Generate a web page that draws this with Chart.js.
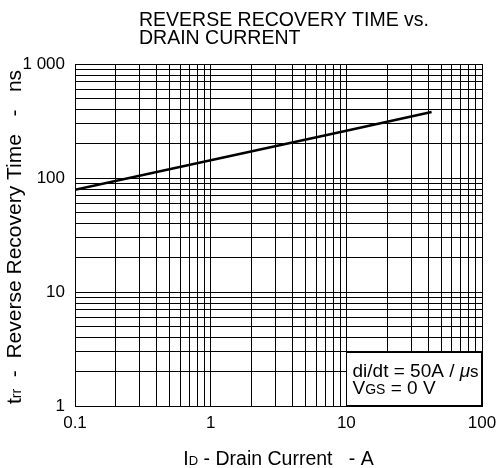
<!DOCTYPE html>
<html>
<head>
<meta charset="utf-8">
<script src="https://cdn.jsdelivr.net/npm/chart.js@4/dist/chart.umd.min.js"></script>
<style>
  body { margin: 0; background: #fff; }
  #wrap { width: 499px; height: 468px; }
</style>
</head>
<body>
<div id="wrap"><canvas id="chart" width="499" height="468"></canvas></div>
<script>
// values
const drainCurrentA = [0.1, 1, 10, 42.5];
const recoveryTimeNs = [79, 143, 260, 379];

const xTickValues = [0.1, 1, 10, 100];
const xTickLabels = ["0.1", "1", "10", "100"];
const yTickValues = [1, 10, 100, 1000];
const yTickLabels = ["1", "10", "100", "1 000"];

const titleLines = ["REVERSE RECOVERY TIME vs.", "DRAIN CURRENT"];
const noteLine1 = [["di/dt = 50A / ", 19, ""], ["\u03bc", 19, "italic "], ["s", 17, ""]];
const noteLine2 = [["V", 19, ""], ["GS", 14, ""], [" = 0 V", 19, ""]];
const xTitle = [["I", 19.5, ""], ["D", 13, ""], [" - Drain Current   - A", 19.5, ""]];
const yTitle = [["t", 21, ""], ["rr", 14, ""], ["  -  Reverse Recovery Time   -   ns", 21, ""]];

const FONT = "'Liberation Sans', Arial, sans-serif";

// 1..9 x 10^n grid lines for each decade
function logGrid(min, max) {
  const out = [];
  for (let e = Math.round(Math.log10(min)); e < Math.round(Math.log10(max)); e++) {
    for (let k = 1; k < 10; k++) out.push(Number((k * Math.pow(10, e)).toPrecision(3)));
  }
  out.push(max);
  return out;
}

function labelFor(values, labels, v) {
  const i = values.findIndex((t) => Math.abs(t - v) / t < 1e-6);
  return i >= 0 ? labels[i] : "";
}

function drawRich(ctx, parts, x, y, align) {
  let total = 0;
  parts.forEach((p) => {
    ctx.font = p[2] + p[1] + "px " + FONT;
    total += ctx.measureText(p[0]).width;
  });
  let cx = align === "center" ? x - total / 2 : x;
  parts.forEach((p) => {
    ctx.font = p[2] + p[1] + "px " + FONT;
    ctx.fillText(p[0], cx, y);
    cx += ctx.measureText(p[0]).width;
  });
}

const textPlugin = {
  id: "texts",
  beforeDatasetsDraw(chart) {
    // white note box in the lower right corner, drawn over the grid
    const ctx = chart.ctx;
    const xs = chart.scales.x;
    const ys = chart.scales.y;
    const l = Math.round(xs.getPixelForValue(10)) + 0.5;
    const r = Math.round(xs.getPixelForValue(100)) - 0.5;
    const t = Math.round(ys.getPixelForValue(3)) + 0.5;
    const b = Math.round(ys.getPixelForValue(1)) - 0.5;
    ctx.save();
    ctx.fillStyle = "#fff";
    ctx.fillRect(l, t, r - l, b - t);
    ctx.strokeStyle = "#000";
    ctx.lineWidth = 1;
    ctx.strokeRect(l, t, r - l, b - t);
    ctx.fillStyle = "#000";
    ctx.textBaseline = "alphabetic";
    drawRich(ctx, noteLine1, l + 6, 377, "left");
    drawRich(ctx, noteLine2, l + 6, 394, "left");
    ctx.restore();
  },
  afterDraw(chart) {
    const ctx = chart.ctx;
    ctx.save();
    ctx.fillStyle = "#000";
    ctx.textBaseline = "alphabetic";
    ctx.font = "19.5px " + FONT;
    ctx.fillText(titleLines[0], 139, 26);
    ctx.fillText(titleLines[1], 139, 44);

    const a = chart.chartArea;
    drawRich(ctx, xTitle, (a.left + a.right) / 2, 465, "center");

    ctx.translate(21, 237);
    ctx.rotate(-Math.PI / 2);
    drawRich(ctx, yTitle, 0, 0, "center");
    ctx.restore();
  },
};

new Chart(document.getElementById("chart"), {
  type: "line",
  data: {
    datasets: [
      {
        data: drainCurrentA.map((x, i) => ({ x: x, y: recoveryTimeNs[i] })),
        borderColor: "#000",
        borderWidth: 2.5,
        pointRadius: 0,
        fill: false,
        tension: 0,
      },
    ],
  },
  options: {
    responsive: false,
    animation: false,
    devicePixelRatio: 1,
    layout: { padding: { top: 64, right: 17, left: 0, bottom: 0 } },
    plugins: {
      legend: { display: false },
      tooltip: { enabled: false },
    },
    scales: {
      x: {
        type: "logarithmic",
        min: 0.1,
        max: 100,
        afterFit: (scale) => {
          scale.height = 62;
          scale.paddingLeft = 0;
          scale.paddingRight = 0;
        },
        afterBuildTicks: (scale) => {
          scale.ticks = logGrid(0.1, 100).map((v) => ({ value: v }));
        },
        grid: { color: "#000", lineWidth: 1, drawTicks: false },
        border: { color: "#000", width: 1 },
        ticks: {
          autoSkip: false,
          maxRotation: 0,
          padding: 7,
          color: "#000",
          font: { family: FONT, size: 17 },
          callback: (v) => labelFor(xTickValues, xTickLabels, v),
        },
      },
      y: {
        type: "logarithmic",
        min: 1,
        max: 1000,
        afterFit: (scale) => {
          scale.width = 75;
          scale.paddingTop = 0;
          scale.paddingBottom = 0;
        },
        afterBuildTicks: (scale) => {
          scale.ticks = logGrid(1, 1000).map((v) => ({ value: v }));
        },
        grid: { color: "#000", lineWidth: 1, drawTicks: false },
        border: { color: "#000", width: 1 },
        ticks: {
          autoSkip: false,
          padding: 10,
          color: "#000",
          font: { family: FONT, size: 17 },
          callback: (v) => labelFor(yTickValues, yTickLabels, v),
        },
      },
    },
  },
  plugins: [textPlugin],
});
</script>
</body>
</html>
